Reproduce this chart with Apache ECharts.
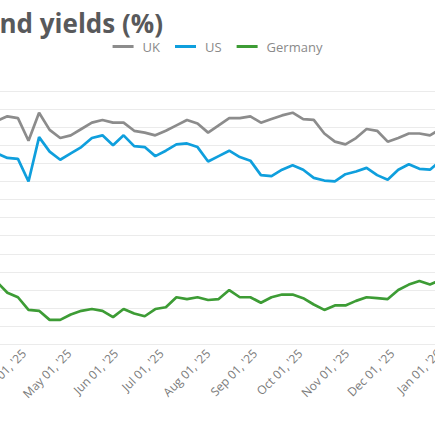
<!DOCTYPE html>
<html>
<head>
<meta charset="utf-8">
<script src="https://cdn.jsdelivr.net/npm/echarts@6/dist/echarts.min.js"></script>
<style>
html,body{margin:0;padding:0;width:435px;height:435px;overflow:hidden;background:#fff;}
#chart{position:absolute;left:-200px;top:0;width:835px;height:435px;}
</style>
</head>
<body>
<div id="chart"></div>
<script>
// Weekly (Friday) observations
const dates = [
 '2025-03-14','2025-03-21','2025-03-28','2025-04-04','2025-04-11','2025-04-18','2025-04-25',
 '2025-05-02','2025-05-09','2025-05-16','2025-05-23','2025-05-30',
 '2025-06-06','2025-06-13','2025-06-20','2025-06-27',
 '2025-07-04','2025-07-11','2025-07-18','2025-07-25',
 '2025-08-01','2025-08-08','2025-08-15','2025-08-22','2025-08-29',
 '2025-09-05','2025-09-12','2025-09-19','2025-09-26',
 '2025-10-03','2025-10-10','2025-10-17','2025-10-24','2025-10-31',
 '2025-11-07','2025-11-14','2025-11-21','2025-11-28',
 '2025-12-05','2025-12-12','2025-12-19','2025-12-26','2026-01-02'
];
const ukYields = [
 4.67,4.72,4.70,4.45,4.76,4.57,4.48,
 4.51,4.58,4.65,4.68,4.65,
 4.65,4.56,4.54,4.51,
 4.56,4.62,4.68,4.64,
 4.54,4.62,4.70,4.70,4.72,
 4.65,4.69,4.73,4.76,
 4.69,4.68,4.53,4.44,4.41,
 4.48,4.58,4.56,4.44,
 4.48,4.53,4.53,4.51,4.58
];
const usYields = [
 4.31,4.26,4.25,4.00,4.49,4.33,4.24,
 4.31,4.38,4.48,4.51,4.40,
 4.51,4.39,4.38,4.28,
 4.34,4.41,4.42,4.38,
 4.22,4.28,4.34,4.27,4.23,
 4.07,4.06,4.13,4.18,
 4.13,4.04,4.01,4.00,4.08,
 4.11,4.15,4.07,4.02,
 4.13,4.19,4.14,4.13,4.23
];
const deYields = [
 2.89,2.77,2.72,2.58,2.57,2.47,2.47,
 2.53,2.57,2.59,2.57,2.50,
 2.59,2.54,2.51,2.59,
 2.61,2.72,2.70,2.72,
 2.69,2.70,2.80,2.72,2.72,
 2.66,2.72,2.75,2.75,
 2.71,2.64,2.58,2.63,2.63,
 2.68,2.72,2.71,2.70,
 2.80,2.86,2.90,2.86,2.91
];
const seriesNames = ['UK','US','Germany'];
const seriesColors = ['#8c8c8c','#0f9fdd','#3d9c35'];
const monthNames = ['Jan','Feb','Mar','Apr','May','Jun','Jul','Aug','Sep','Oct','Nov','Dec'];

const toPairs = vals => dates.map((d,i)=>[d, vals[i]]);
const allVals = [ukYields, usYields, deYields];

const chart = echarts.init(document.getElementById('chart'), null, {renderer:'svg'});
chart.setOption({
  animation:false,
  backgroundColor:'#fff',
  title:{
    text:'10-year government bond yields (%)',
    right:472, top:12, padding:0,
    textStyle:{fontFamily:'Open Sans', fontWeight:'bold', fontSize:26, lineHeight:22, color:'#58595b'}
  },
  legend:{
    data:seriesNames,
    top:35, left:'center',
    icon:'rect',
    itemWidth:21, itemHeight:3, itemGap:15,
    textStyle:{fontFamily:'Open Sans', fontSize:13, color:'#8a8a8a', padding:[0,0,0,4]}
  },
  grid:{left:177.2, right:149.2, top:91, bottom:90.7, containLabel:false, outerBoundsMode:'none'},
  xAxis:{
    type:'time',
    min:'2025-03-01', max:'2026-02-01',
    minInterval:28*86400000, maxInterval:31*86400000,
    axisLine:{show:false}, axisTick:{show:false},
    splitLine:{show:false},
    axisLabel:{
      rotate:45, margin:7,
      fontFamily:'Open Sans', fontSize:12, color:'#7a7a7a',
      formatter:function(v){
        const d = new Date(v);
        return monthNames[d.getMonth()] + ' 01, \'' + String(d.getFullYear()).slice(2);
      }
    }
  },
  yAxis:{
    type:'value', min:2.2, max:5.0, interval:0.2,
    axisLine:{show:false}, axisTick:{show:false},
    axisLabel:{show:false},
    splitLine:{lineStyle:{color:'#ebebeb', width:1}}
  },
  series: seriesNames.map((n,i)=>({
    name:n, type:'line', data:toPairs(allVals[i]),
    symbol:'none', color:seriesColors[i],
    lineStyle:{width:2.7, color:seriesColors[i]}
  }))
});
</script>
</body>
</html>
